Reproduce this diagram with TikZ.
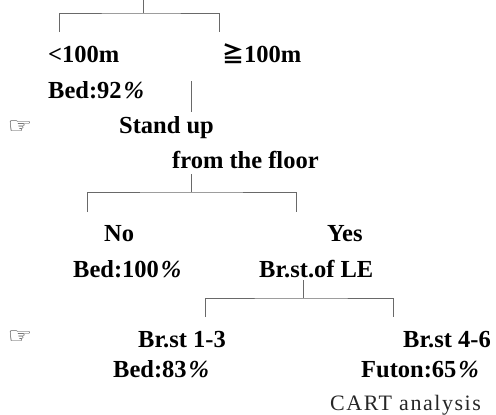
\documentclass[tikz,border=0pt]{standalone}
\usepackage{fontspec}
\setmainfont{Liberation Serif}
\newfontfamily\cjkfont{Noto Sans CJK JP}
\newfontfamily\symfont{DejaVu Sans}
\definecolor{branchgray}{RGB}{105,105,105}
\newcommand{\pct}{\hspace{2pt}\textit{\%}\hspace{2pt}}
\usetikzlibrary{positioning}
\tikzset{
  treelabel/.style={anchor=base west,inner sep=0pt,font=\fontsize{24.5}{28}\selectfont\bfseries},
  handmark/.style={anchor=center,inner sep=0pt,text=black!80,xscale=1.25,font=\fontsize{22}{26}\symfont},
  notelabel/.style={anchor=base west,inner sep=0pt,text=black!85,font=\fontsize{22}{25}\rmfamily\addfontfeature{LetterSpace=7}},
  branch/.style={draw=branchgray,line width=1pt}
}

\begin{document}
\begin{tikzpicture}[x=1pt,y=-1pt]
    \useasboundingbox (0,0) rectangle (496,415);
    % labels
    \node[treelabel] (less) at (48,62) {<100m};
    \node[treelabel] (more) at (222,62) {{\cjkfont\fontsize{22}{26}\selectfont ≧}100m};
    \node[treelabel] (bedA) at (48,98) {Bed:92\pct};
    \node[handmark] (handA) at (20,127) {☞};
    \node[treelabel] (stand) at (119,133) {Stand up};
    \node[treelabel] (floor) at (172,168) {from the floor};
    \node[treelabel] (no) at (104,241) {No};
    \node[treelabel] (yes) at (327,241) {Yes};
    \node[treelabel] (bedB) at (73,277) {Bed:100\pct};
    \node[treelabel] (brst) at (259,277) {Br.st.of LE};
    \node[handmark] (handB) at (20,337) {☞};
    \node[treelabel] (brlow) at (138,347) {Br.st 1-3};
    \node[treelabel] (brhigh) at (403,347) {Br.st 4-6};
    \node[treelabel] (bedC) at (113,377) {Bed:83\pct};
    \node[treelabel] (futon) at (361,377) {Futon:65\pct};
    \node[notelabel] (cart) at (330,410) {CART analysis};
    % branch points
    \coordinate (top) at (143,0);
    \coordinate (topJ) at (143,13);
    \coordinate (lessUp) at (59,32);
    \coordinate (moreUp) at (219,32);
    \coordinate (moreDn) at (191,81);
    \coordinate (standUp) at (191,112);
    \coordinate (floorDn) at (191,174);
    \coordinate (floorJ) at (191,192);
    \coordinate (noUp) at (87,212);
    \coordinate (yesUp) at (296,212);
    \coordinate (brstDn) at (303,280);
    \coordinate (brstJ) at (303,298);
    \coordinate (lowUp) at (205,317);
    \coordinate (highUp) at (393,317);
    % connectors
    \draw[branch] (top) -- (topJ);
    \draw[branch] (lessUp) |- (topJ) -| (moreUp);
    \draw[branch] (moreDn) -- (standUp);
    \draw[branch] (floorDn) -- (floorJ);
    \draw[branch] (noUp) |- (floorJ) -| (yesUp);
    \draw[branch] (brstDn) -- (brstJ);
    \draw[branch] (lowUp) |- (brstJ) -| (highUp);
  \end{tikzpicture}
\end{document}
